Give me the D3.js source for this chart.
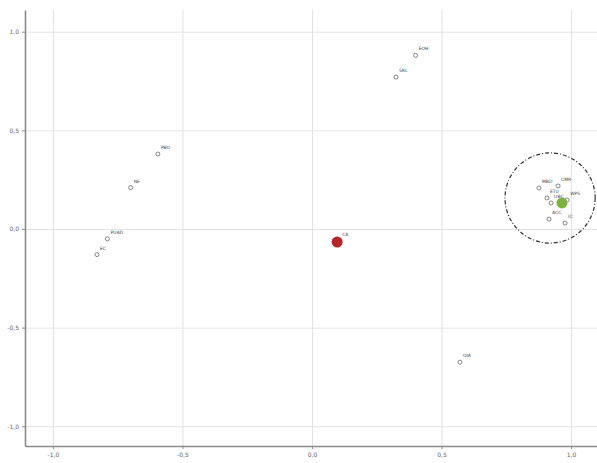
<!DOCTYPE html>
<html>
<head>
<meta charset="utf-8">
<script src="https://cdn.jsdelivr.net/npm/d3@7"></script>
<style>
  body { margin: 0; background: #fff; }
  .chart text { font-family: "DejaVu Sans", sans-serif; }
</style>
</head>
<body>
<div class="chart"></div>
<script>
// tick values
const xTicks = [-1.0, -0.5, 0.0, 0.5, 1.0];
const yTicks = [1.0, 0.5, 0.0, -0.5, -1.0];

// open-circle points: names and coordinates
const pointNames = ["EC", "PUAD", "NE", "PBO", "EOH", "SRL", "OIA",
  "MBD", "CMR", "ETU", "UBC", "WPS", "ACC", "IC"];
const pointX = [-0.83, -0.79, -0.70, -0.595, 0.40, 0.324, 0.571,
  0.876, 0.95, 0.907, 0.923, 0.985, 0.915, 0.977];
const pointY = [-0.13, -0.05, 0.21, 0.38, 0.88, 0.77, -0.675,
  0.208, 0.218, 0.157, 0.132, 0.147, 0.05, 0.03];

// highlighted points
const keyNames = ["CA", ""];
const keyX = [0.097, 0.965];
const keyY = [-0.066, 0.132];
const keyColors = ["#b3262a", "#7cb342"];

// dashed circle around the right cluster
const ringCenter = [0.919, 0.157];
const ringRadius = 0.174;

const width = 597, height = 463;
const mLeft = 25, mRight = 598, mTop = 10, mBottom = 446;

const svg = d3.select(".chart").append("svg")
  .attr("width", width)
  .attr("height", height);

const x = d3.scaleLinear().domain([-1.108, 1.104]).range([mLeft, mRight]);
const y = d3.scaleLinear().domain([-1.10, 1.11]).range([mBottom, mTop]);
const fmt = d => d3.format(".1f")(d).replace(".", ",").replace("−", "-");

// grid
svg.append("g")
  .attr("transform", `translate(0,${mBottom})`)
  .call(d3.axisBottom(x).tickValues(xTicks).tickSize(-(mBottom - mTop)).tickFormat(""))
  .call(g => g.select(".domain").remove())
  .call(g => g.selectAll("line").attr("stroke", "#e2e2e2"));
svg.append("g")
  .attr("transform", `translate(${mLeft},0)`)
  .call(d3.axisLeft(y).tickValues(yTicks).tickSize(-(mRight - mLeft)).tickFormat(""))
  .call(g => g.select(".domain").remove())
  .call(g => g.selectAll("line").attr("stroke", "#e2e2e2"));

// axes
svg.append("g")
  .attr("transform", `translate(0,${mBottom})`)
  .call(d3.axisBottom(x).tickValues(xTicks).tickSize(3).tickSizeOuter(0).tickFormat(fmt))
  .call(g => g.select(".domain").attr("stroke", "#8a8a8a").attr("stroke-width", 1.6))
  .call(g => g.selectAll("line").attr("stroke", "#8a8a8a"))
  .call(g => g.selectAll("text").attr("fill", "#666").attr("font-size", 6).attr("dy", "0.9em"));
svg.append("g")
  .attr("transform", `translate(${mLeft},0)`)
  .call(d3.axisLeft(y).tickValues(yTicks).tickSize(3).tickSizeOuter(0).tickFormat(fmt))
  .call(g => g.select(".domain").attr("stroke", "#8a8a8a").attr("stroke-width", 1.6))
  .call(g => g.selectAll("line").attr("stroke", "#8a8a8a"))
  .call(g => g.selectAll("text").attr("fill", "#666").attr("font-size", 6));

// dashed ring
svg.append("circle")
  .attr("cx", x(ringCenter[0]))
  .attr("cy", y(ringCenter[1]))
  .attr("r", x(ringRadius) - x(0))
  .attr("fill", "none")
  .attr("stroke", "#333")
  .attr("stroke-width", 1.2)
  .attr("stroke-dasharray", "4,2,1,2");

// open points
const pts = pointNames.map((n, i) => ({ name: n, x: pointX[i], y: pointY[i] }));
svg.append("g").selectAll("circle").data(pts).enter().append("circle")
  .attr("cx", d => x(d.x))
  .attr("cy", d => y(d.y))
  .attr("r", 2)
  .attr("fill", "#fff")
  .attr("stroke", "#666")
  .attr("stroke-width", 0.8);
svg.append("g").selectAll("text").data(pts).enter().append("text")
  .attr("x", d => x(d.x) + 3)
  .attr("y", d => y(d.y) - 5)
  .attr("font-size", 4.5)
  .attr("fill", "#444")
  .text(d => d.name);

// key points
const keys = keyNames.map((n, i) => ({ name: n, x: keyX[i], y: keyY[i], c: keyColors[i] }));
svg.append("g").selectAll("circle").data(keys).enter().append("circle")
  .attr("cx", d => x(d.x))
  .attr("cy", d => y(d.y))
  .attr("r", 5.5)
  .attr("fill", d => d.c);
svg.append("g").selectAll("text").data(keys).enter().append("text")
  .attr("x", d => x(d.x) + 5)
  .attr("y", d => y(d.y) - 6)
  .attr("font-size", 4.5)
  .attr("fill", "#444")
  .text(d => d.name);
</script>
</body>
</html>
